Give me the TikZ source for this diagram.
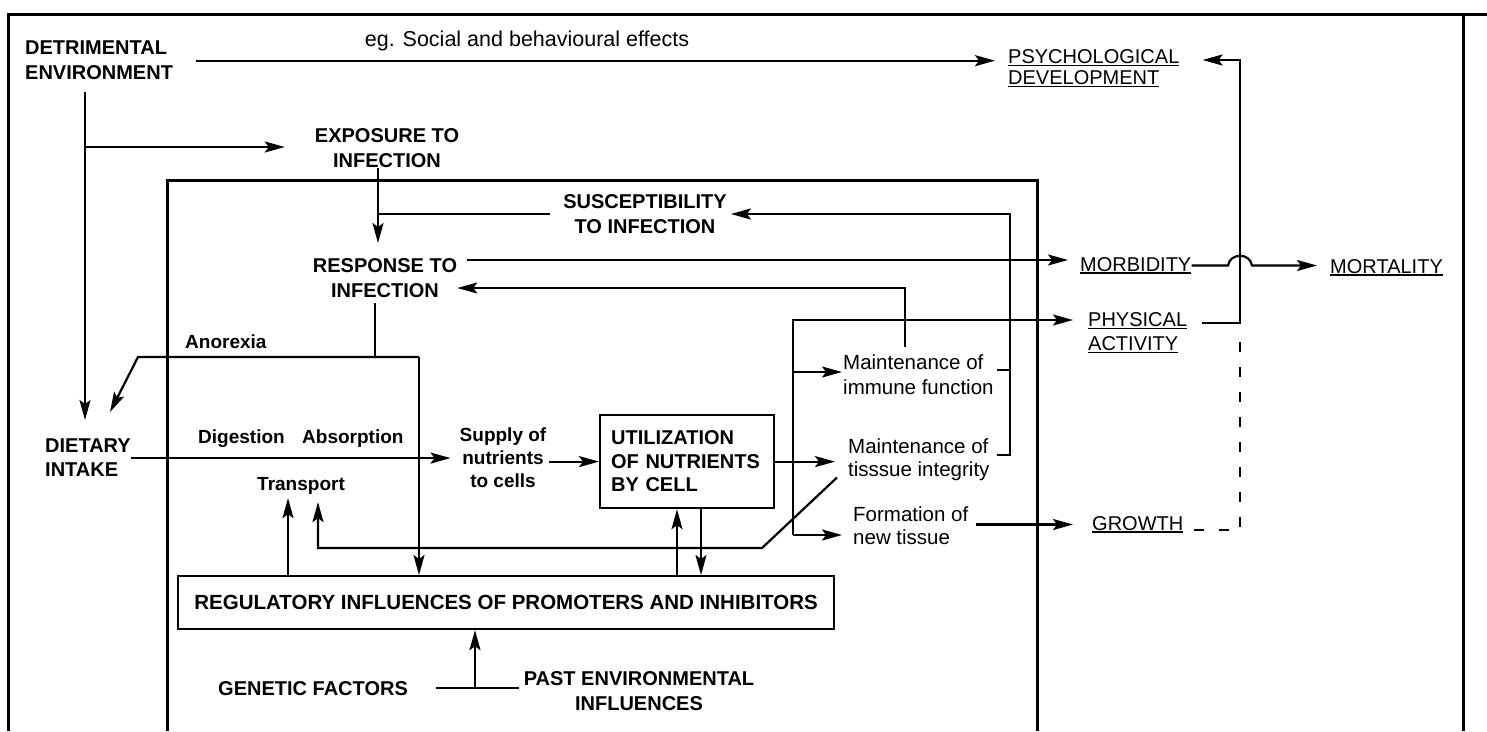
\documentclass[tikz,border=0pt]{standalone}
\usepackage{fontspec}
\setmainfont{Liberation Sans}
\usetikzlibrary{arrows.meta}
\newcommand\ulx[1]{\setbox0\hbox{#1}\rlap{\rule[-3pt]{\wd0}{1.6pt}}\box0}
\begin{document}
\begin{tikzpicture}[x=1pt,y=-1pt,
  rlab/.style={inner sep=0pt,font=\fontsize{20}{25}\selectfont},
  blab/.style={inner sep=0pt,font=\bfseries\fontsize{20}{25}\selectfont},
  sblab/.style={inner sep=0pt,font=\bfseries\fontsize{19}{24}\selectfont},
  conn/.style={line width=2.2pt},
  arr/.style={line width=2.2pt,-{Stealth[length=20pt,width=11pt,inset=4pt]}},
  heavy/.style={line width=3pt},
  boxed/.style={draw,line width=2.2pt},
  dashline/.style={line width=2.2pt,dash pattern=on 10pt off 15pt}]
\fill[white] (0,0) rectangle (1487,731);
\useasboundingbox (0,0) rectangle (1487,731);

% frames
\draw[heavy] (8,731) -- (8,14) -- (1487,14);
\draw[heavy] (1463,14) -- (1463,731);
\draw[heavy] (167,731) -- (167,180) -- (1037,180) -- (1037,731);

% nodes
\node[blab,anchor=north west,align=left] (det) at (25,41) {DETRIMENTAL\\ENVIRONMENT};
\node[rlab,anchor=base,font=\fontsize{21.5}{25}\selectfont] (eg) at (527,46) {eg. Social and behavioural effects};
\node[rlab,anchor=north west,align=left,font=\fontsize{20}{21}\selectfont] (psy) at (1008,49) {\ulx{PSYCHOLOGICAL}\\\ulx{DEVELOPMENT}};
\node[blab,anchor=north,align=center] (exp) at (387,128) {EXPOSURE TO\\INFECTION};
\node[blab,anchor=north,align=center] (sus) at (645,194) {SUSCEPTIBILITY\\TO INFECTION};
\node[blab,anchor=north,align=center] (resp) at (385,258) {RESPONSE TO\\INFECTION};
\node[rlab,anchor=base west] (morb) at (1080,271) {\ulx{MORBIDITY}};
\node[rlab,anchor=base west] (mort) at (1330,273) {\ulx{MORTALITY}};
\node[rlab,anchor=north west,align=left,font=\fontsize{20}{24}\selectfont] (phys) at (1088,312) {\ulx{PHYSICAL}\\\ulx{ACTIVITY}};
\node[rlab,anchor=base west] (growth) at (1092,530) {\ulx{GROWTH}};
\node[sblab,anchor=base west] (anor) at (185,348) {Anorexia};
\node[blab,anchor=north west,align=left,font=\bfseries\fontsize{20}{24}\selectfont] (diet) at (45,439) {DIETARY\\INTAKE};
\node[sblab,anchor=base west] (dig) at (198,443) {Digestion};
\node[sblab,anchor=base west] (abs) at (302,443) {Absorption};
\node[sblab,anchor=base west] (trans) at (257,490) {Transport};
\node[sblab,anchor=north,align=center,font=\bfseries\fontsize{19}{23}\selectfont] (sup) at (503,428) {Supply of\\nutrients\\to cells};
\node[blab,boxed,anchor=north west,minimum height=93pt,text width=152pt,inner xsep=11pt,align=left,font=\bfseries\fontsize{20}{23.5}\selectfont] (util) at (599,414) {UTILIZATION\\OF NUTRIENTS\\BY CELL};
\node[rlab,anchor=north west,align=left,font=\fontsize{20.5}{25}\selectfont] (mt1) at (843,354) {Maintenance of\\immune function};
\node[rlab,anchor=north west,align=left,font=\fontsize{20.5}{23}\selectfont] (mt2) at (848,438) {Maintenance of\\tisssue integrity};
\node[rlab,anchor=north west,align=left,font=\fontsize{20.5}{23}\selectfont] (form) at (853,506) {Formation of\\new tissue};
\node[blab,boxed,anchor=north west,minimum width=656pt,minimum height=53pt,font=\bfseries\fontsize{20.5}{24}\selectfont] (reg) at (177,575) {REGULATORY INFLUENCES OF PROMOTERS AND INHIBITORS};
\node[blab,anchor=base west] (gen) at (218,695) {GENETIC FACTORS};
\node[blab,anchor=north,align=center] (past) at (639,671) {PAST ENVIRONMENTAL\\INFLUENCES};

% bend points
\coordinate (dA) at (85,92);
\coordinate (dB) at (85,147);
\coordinate (eA) at (378,168);
\coordinate (mA) at (467,260);
\coordinate (rA) at (1010,455);
\coordinate (rB) at (1010,214);
\coordinate (rC) at (1010,370);
\coordinate (iA) at (905,347);
\coordinate (iB) at (905,288);
\coordinate (vA) at (793,320);
\coordinate (vB) at (793,535);
\coordinate (vC) at (793,372);
\coordinate (tB) at (762,548);
\coordinate (tC) at (318,548);
\coordinate (rgA) at (288,575);
\coordinate (aA) at (375,357);
\coordinate (aL) at (138,357);
\coordinate (aR) at (419,357);
\coordinate (uA) at (677,540);
\coordinate (uB) at (701,540);
\coordinate (gA) at (475,690);
\coordinate (hx) at (1240,0);
\coordinate (pA) at (1240,323);
\coordinate (pB) at (1240,60);
\coordinate (gx) at (1240,335);

% connectors
\draw[arr,shorten >=13pt] ([xshift=23pt]det.east) -- (det.east -| psy.west);
\draw[arr] ([yshift=-12pt]det.south -| dA) -- ([yshift=19pt]dA |- diet.north);
\draw[arr,shorten >=30pt] (dB) -- (dB -| exp.west);
\draw[arr] (exp.south -| eA) -- ([yshift=15pt]eA |- resp.north);
\draw[conn] ([xshift=-13pt]sus.west) -- (sus.west -| eA);
\draw[arr,shorten >=4pt] ([xshift=7pt]mt2.east |- rA) -- (rA) -- (rB) -- (rB -| sus.east);
\draw[conn] ([xshift=3pt]mt1.east |- rC) -- (rC);
\draw[arr,shorten >=12pt] ([xshift=10pt]resp.east |- mA) -- (mA -| morb.west);
\draw[arr] ([yshift=7pt]mt1.north -| iA) -- (iB) -- (iB -| resp.east);
\draw[arr,shorten >=15pt] (vB) -- (vA) -- (vA -| phys.west);
\draw[arr,shorten >=1pt] (vC) -- (vC -| mt1.west);
\draw[arr,shorten >=11pt] (vB) -- (vB -| form.west);
\draw[arr,shorten >=13pt] (util.east) -- (util.east -| mt2.west);
\draw[arr] ([xshift=-11pt,yshift=3pt]mt2.south west) -- (tB) -- (tC) -- ([yshift=-8pt]tC |- trans.south);
\draw[arr] (reg.north -| rgA) -- ([yshift=-4pt]rgA |- trans.south);
\draw[conn] ([yshift=-5pt]resp.south -| aA) -- (aA);
\draw[arr] (aR) -- (aL) -- ([xshift=65pt,yshift=27pt]diet.north west);
\draw[arr] (aR) -- (aR |- reg.north);
\draw[arr,shorten >=9pt] (diet.east) -- (diet.east -| sup.west);
\draw[arr] ([xshift=3pt]sup.east |- util.west) -- (util.west);
\draw[arr] (reg.north -| uA) -- (util.south -| uA);
\draw[arr] (util.south -| uB) -- (reg.north -| uB);
\draw[conn] ([xshift=28pt]gen.east) -- ([xshift=-5pt]gen.east -| past.west);
\draw[arr] (gen.east -| gA) -- (gA |- reg.south);
\draw[arr,shorten >=19pt] ([xshift=8pt]growth.west -| form.east) -- (growth.west);
\draw[arr,shorten >=13pt] (morb.east) -- ([xshift=-12pt]morb.east -| hx) .. controls +(2,-13) and +(-2,-13) .. ([xshift=12pt]morb.east -| hx) -- (morb.east -| mort.west);
\draw[arr,shorten >=23pt] ([xshift=15pt]phys.north east |- pA) -- (pA) -- (pB) -- (pB -| psy.east);
\draw[dashline] ([xshift=10pt]growth.base east) -- (growth.base east -| gx) -- (gx);
\end{tikzpicture}
\end{document}
